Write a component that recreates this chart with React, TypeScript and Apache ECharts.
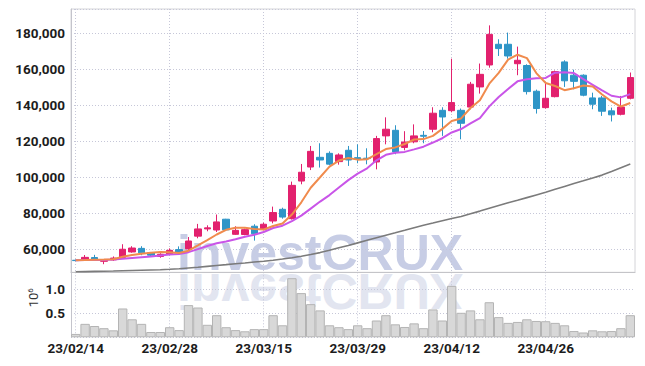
import React, { useEffect, useRef } from 'react';
import * as echarts from 'echarts';

const dates = [
  '23/02/14','23/02/15','23/02/16','23/02/17','23/02/20','23/02/21','23/02/22','23/02/23','23/02/24','23/02/27','23/02/28',
  '23/03/02','23/03/03','23/03/06','23/03/07','23/03/08','23/03/09','23/03/10','23/03/13','23/03/14','23/03/15',
  '23/03/16','23/03/17','23/03/20','23/03/21','23/03/22','23/03/23','23/03/24','23/03/27','23/03/28','23/03/29',
  '23/03/30','23/03/31','23/04/03','23/04/04','23/04/05','23/04/06','23/04/07','23/04/10','23/04/11','23/04/12',
  '23/04/13','23/04/14','23/04/17','23/04/18','23/04/19','23/04/20','23/04/21','23/04/24','23/04/25','23/04/26',
  '23/04/27','23/04/28','23/05/02','23/05/03','23/05/04','23/05/08','23/05/09','23/05/10','23/05/11',
];

const tickLabels = ['23/02/14', '23/02/28', '23/03/15', '23/03/29', '23/04/12', '23/04/26'];

const opens = [
  53900, 54300, 55400, 53300, 54100, 55500, 58500, 60500, 58000, 56000,
  57300, 59800, 60200, 67300, 71300, 70700, 76700, 68300, 68200, 72800,
  71100, 75700, 82200, 77000, 97900, 105700, 111100, 113300, 108700, 115000,
  110900, 110600, 108500, 123000, 126100, 116600, 119700, 123300, 126700, 137200,
  137000, 137200, 139000, 150200, 162400, 173900, 173900, 163100, 162100, 147800,
  138700, 144800, 164100, 156700, 156700, 144100, 144100, 136900, 135000, 143900,
];
const closes = [
  53700, 55500, 54400, 54000, 55100, 60000, 60700, 58000, 56700, 57200,
  59400, 58200, 64600, 71300, 71900, 75200, 70800, 70500, 70900, 68600,
  73900, 80400, 77900, 95500, 102800, 114400, 109600, 107300, 112400, 109600,
  110100, 110400, 121500, 126700, 114100, 119600, 123000, 122800, 135600, 133500,
  141500, 130000, 151700, 157200, 179400, 171500, 167400, 165000, 147600, 138200,
  143900, 158700, 153600, 153300, 145600, 140600, 136700, 134700, 139000, 155400,
];
const lows = [
  53400, 53900, 53900, 51700, 53500, 55200, 58100, 56700, 56300, 55300,
  56700, 56800, 59600, 66100, 70000, 69600, 70500, 68000, 67800, 64800,
  70500, 74400, 77000, 76500, 96100, 104000, 105400, 106700, 107000, 106300,
  107800, 107200, 104400, 118300, 112800, 115000, 118900, 118900, 125000, 123000,
  136100, 121100, 137800, 146500, 160900, 167400, 165900, 156700, 146000, 135400,
  138200, 144400, 150200, 148900, 145000, 137800, 134100, 131000, 134400, 143300,
];
const highs = [
  54300, 56800, 56900, 54500, 56000, 62800, 61700, 61700, 58500, 57800,
  60500, 61600, 66800, 74100, 73300, 79300, 76900, 72800, 71500, 73900,
  74800, 83700, 83100, 97600, 107400, 117400, 118900, 114400, 113300, 117400,
  118300, 116100, 123000, 133300, 128900, 125600, 129400, 125700, 138900, 138900,
  165900, 138200, 153000, 163200, 184400, 176700, 180400, 172600, 162800, 148700,
  152600, 159300, 165000, 159800, 157200, 147000, 145200, 138700, 145200, 158200,
];

const ma5 = [
  53900, 54000, 54200, 54300, 54500, 55800, 56800, 57500, 58100, 58500,
  58400, 57900, 59200, 62100, 65100, 68200, 70800, 71900, 71900, 71200,
  71000, 72900, 74300, 79300, 86100, 94200, 100000, 105900, 109300, 110700,
  109800, 110000, 112800, 115700, 116600, 118500, 121000, 121200, 123000, 126900,
  131300, 132700, 138500, 142800, 152000, 158000, 165400, 168100, 166200, 157900,
  152400, 150700, 148400, 149500, 151000, 150400, 146000, 142200, 139300, 141300,
];
const ma10 = [
  53900, 54000, 54100, 54100, 54300, 54700, 55200, 55600, 56000, 56500,
  57100, 57400, 58400, 60100, 61800, 63300, 64300, 65600, 67000, 68100,
  69600, 71800, 73100, 75600, 78700, 82600, 86500, 90100, 94300, 98400,
  102000, 105000, 109400, 112500, 113600, 114100, 115500, 117000, 119300, 121700,
  124900, 126800, 129900, 132900, 139400, 144600, 149100, 153300, 154500, 155000,
  155200, 158100, 158300, 157900, 154500, 151400, 148300, 145300, 144400, 146200,
];
const ma60 = [
  47500, 47600, 47700, 47800, 47900, 48050, 48200, 48350, 48500, 48650,
  48900, 49200, 49600, 50000, 50500, 51000, 51450, 51950, 52400, 52900,
  53350, 53900, 54550, 55300, 56100, 57050, 58150, 59450, 60800, 62100,
  63550, 65000, 66400, 67800, 69150, 70550, 72000, 73350, 74550, 75850,
  77050, 78200, 79700, 81200, 82800, 84300, 85800, 87200, 88700, 90200,
  91650, 93300, 94900, 96500, 98050, 99650, 101200, 103150, 105300, 107400,
];

const volumes = [
  0.07, 0.28, 0.235, 0.19, 0.145, 0.6, 0.375, 0.28, 0.11, 0.11,
  0.21, 0.15, 0.67, 0.62, 0.26, 0.46, 0.21, 0.15, 0.125, 0.17,
  0.17, 0.46, 0.25, 1.23, 0.92, 0.69, 0.56, 0.25, 0.21, 0.17,
  0.25, 0.19, 0.35, 0.46, 0.27, 0.215, 0.29, 0.19, 0.58, 0.35,
  1.07, 0.51, 0.56, 0.375, 0.73, 0.42, 0.3, 0.32, 0.375, 0.34,
  0.335, 0.3, 0.25, 0.13, 0.1, 0.145, 0.125, 0.13, 0.19, 0.46,
];

const FONT = 'Roboto, "Liberation Sans", sans-serif';
const GRID_LINE = { color: '#c6c7d8', width: 1, type: [1, 2] as any };

export default function App() {
  const ref = useRef<HTMLDivElement>(null);

  useEffect(() => {
    const chart = echarts.init(ref.current!, null, { renderer: 'svg' });
    const isTick = (i: number) => tickLabels.indexOf(dates[i]) >= 0;

    const xCommon = {
      type: 'category',
      data: dates,
      boundaryGap: true,
      axisTick: { show: false },
      splitLine: { show: true, interval: (i: number) => isTick(i), alignWithLabel: true, lineStyle: GRID_LINE },
    };

    chart.setOption({
      animation: false,
      backgroundColor: '#ffffff',
      grid: [
        { left: 71, top: 9, width: 564, height: 263.3, show: true, borderColor: '#d4d4d8', borderWidth: 1 },
        { left: 71, top: 272.3, width: 564, height: 65, show: false },
      ],
      graphic: [
        {
          type: 'text', x: 177, y: 252.5, z: 0, silent: true,
          style: { text: 'investCRUX', font: 'bold 50px "Liberation Sans", Arial, sans-serif', fill: '#c7cde5', verticalAlign: 'middle', align: 'left' },
        },
        {
          type: 'text', x: 177, y: 291, scaleY: -1, z: 0, silent: true,
          style: { text: 'investCRUX', font: 'bold 50px "Liberation Sans", Arial, sans-serif', fill: '#e2e5f0', verticalAlign: 'middle', align: 'left' },
        },
      ],
      xAxis: [
        {
          ...xCommon, gridIndex: 0,
          axisLine: { show: true, lineStyle: { color: '#c4c4c8' } },
          axisLabel: { show: false },
        },
        {
          ...xCommon, gridIndex: 1,
          axisLine: { show: false },
          axisLabel: {
            interval: (i: number) => isTick(i), margin: 4,
            fontFamily: FONT, fontSize: 13.5, fontWeight: 'bold', color: '#1c1c1c',
          },
        },
      ],
      yAxis: [
        {
          type: 'value', gridIndex: 0, min: 47200, max: 193500, splitNumber: 7,
          axisLine: { show: true, lineStyle: { color: '#c4c4cc' } },
          axisTick: { show: false },
          splitLine: { show: true, lineStyle: GRID_LINE },
          axisLabel: {
            margin: 6, fontFamily: FONT, fontSize: 13.5, fontWeight: 'bold', color: '#1c1c1c',
            formatter: (v: number) => (v % 20000 === 0 ? v.toLocaleString('en-US') : ''),
          },
        },
        {
          type: 'value', gridIndex: 1, min: 0, max: 1.353, interval: 0.5,
          axisLine: { show: true, lineStyle: { color: '#c4c4cc' } },
          axisTick: { show: false },
          splitLine: { show: true, lineStyle: GRID_LINE },
          axisLabel: {
            margin: 6, fontFamily: FONT, fontSize: 13.5, fontWeight: 'bold', color: '#1c1c1c',
            formatter: (v: number) => (v === 0.5 || v === 1 ? v.toFixed(1) : ''),
          },
          name: '{a|10}{b|6}',
          nameLocation: 'middle',
          nameRotate: 90,
          nameGap: 31,
          nameMoveOverlap: false,
          nameTextStyle: {
            padding: [0, 0, 0, 14],
            rich: {
              a: { fontFamily: FONT, fontSize: 13, color: '#333', lineHeight: 14 },
              b: { fontFamily: FONT, fontSize: 8, color: '#333', verticalAlign: 'top', lineHeight: 14 },
            },
          },
        },
      ],
      series: [
        {
          type: 'bar', xAxisIndex: 1, yAxisIndex: 1, data: volumes,
          barCategoryGap: '0%', z: 2,
          itemStyle: { color: '#d8d8d8', borderColor: '#b4b4b4', borderWidth: 1 },
        },
        {
          type: 'candlestick', xAxisIndex: 0, yAxisIndex: 0, z: 2,
          data: opens.map((o, i) => [o, closes[i], lows[i], highs[i]]),
          barWidth: 7,
          itemStyle: { color: '#e2216e', color0: '#2e95c7', borderColor: '#e2216e', borderColor0: '#2e95c7', borderWidth: 1 },
        },
        {
          type: 'line', xAxisIndex: 0, yAxisIndex: 0, data: ma60, z: 3,
          symbol: 'none', lineStyle: { color: '#7b7b7b', width: 1.6 },
        },
        {
          type: 'line', xAxisIndex: 0, yAxisIndex: 0, data: ma10, z: 3,
          symbol: 'none', lineStyle: { color: '#c955e8', width: 2 },
        },
        {
          type: 'line', xAxisIndex: 0, yAxisIndex: 0, data: ma5, z: 3,
          symbol: 'none', lineStyle: { color: '#f08b4d', width: 2 },
        },
      ],
    });

    return () => chart.dispose();
  }, []);

  return (
    <div
      ref={ref}
      style={{ position: 'fixed', left: 0, top: 0, width: 645, height: 366, background: '#fff' }}
    />
  );
}
